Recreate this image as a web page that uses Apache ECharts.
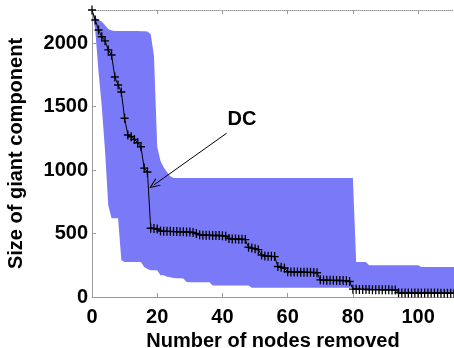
<!DOCTYPE html>
<html>
<head>
<meta charset="utf-8">
<script src="https://cdn.jsdelivr.net/npm/echarts@6/dist/echarts.min.js"></script>
<style>
  html, body { margin: 0; padding: 0; background: #ffffff; }
  #chart { width: 454px; height: 348px; }
</style>
</head>
<body>
<div id="chart"></div>
<script>
// Number of nodes removed (x), 0 .. 111
const nodesRemoved = Array.from({ length: 112 }, (_, i) => i);

// Size of the giant component after each removal (DC ordering)
const giantSize = [
  2260, 2182, 2103, 2050, 2017, 1946, 1906, 1733, 1670, 1614,
  1407, 1275, 1262, 1240, 1215, 1183, 1015, 984, 542, 540,
  536, 520, 518, 517, 517, 515, 515, 514, 513, 512,
  511, 508, 500, 490, 487, 486, 486, 485, 484, 484,
  483, 478, 460, 457, 456, 455, 455, 452, 392, 385,
  380, 373, 330, 323, 321, 320, 318, 240, 234, 228,
  199, 197, 196, 196, 195, 195, 194, 194, 193, 191,
  135, 133, 132, 131, 131, 130, 130, 129, 127, 122,
  62, 61, 60, 60, 59, 59, 58, 58, 58, 57,
  57, 57, 56, 55, 33, 32, 32, 32, 32, 32,
  31, 31, 31, 31, 31, 31, 31, 30, 30, 30,
  30, 30
];

// Lower edge of the shaded range
const bandLower = [
  2260, 2100, 1774, 1500, 1150, 720, 621, 621, 621, 289,
  276, 276, 276, 276, 276, 276, 237, 220, 211, 211,
  211, 171, 171, 160, 155, 150, 148, 147, 146, 118,
  116, 116, 116, 116, 116, 116, 116, 90, 90, 90,
  90, 90, 90, 90, 90, 90, 90, 90, 90, 73,
  73, 73, 73, 73, 73, 73, 73, 73, 73, 73,
  73, 73, 73, 73, 73, 73, 73, 73, 73, 73,
  73, 73, 73, 73, 73, 73, 73, 73, 73, 73,
  73, 55, 55, 55, 55, 55, 55, 55, 55, 55,
  55, 55, 55, 55, 29, 29, 29, 29, 29, 29,
  29, 29, 29, 29, 29, 29, 29, 29, 29, 29,
  29, 29
];

// Upper edge of the shaded range
const bandUpper = [
  2260, 2200, 2180, 2170, 2140, 2110, 2098, 2095, 2095, 2095,
  2095, 2095, 2095, 2095, 2095, 2093, 2092, 2090, 2070, 1900,
  1183, 1070, 1020, 985, 950, 938, 938, 938, 938, 938,
  938, 938, 938, 938, 938, 938, 938, 938, 938, 938,
  938, 938, 938, 938, 938, 938, 938, 938, 938, 938,
  938, 938, 938, 938, 938, 938, 938, 938, 938, 938,
  938, 938, 938, 938, 938, 938, 938, 938, 938, 938,
  938, 938, 938, 938, 938, 938, 938, 938, 938, 938,
  938, 276, 276, 276, 276, 250, 250, 250, 250, 250,
  250, 250, 250, 250, 250, 250, 250, 250, 250, 250,
  250, 237, 237, 237, 237, 237, 237, 237, 237, 237,
  237, 237
];

// Axis ranges and tick spacing
const xRange = [0, 111];
const xStep = 20;
const yRange = [0, 2260];
const yStep = 500;

// "DC" callout: text anchor and arrow, in data units
const dcText = 'DC';
const dcTextAt = [46, 1401];
const dcArrowFrom = [41.3, 1290];
const dcArrowTo = [18.9, 881];

const font = 'Liberation Sans, Arial, Helvetica, sans-serif';
const bandColor = '#7a7af8';
const axisGray = '#9a9a9a';

const giantPairs = nodesRemoved.map((x, i) => [x, giantSize[i]]);

// thin "+" marker
const plusSymbol = 'path://M0,4.2H10V5.8H0Z M4.2,0H5.8V10H4.2Z';
// open chevron arrowhead
const chevron = 'path://M0,10L5,0L10,10L8.8,10L5,2.4L1.2,10Z';

const labelStyle = { fontFamily: font, fontWeight: 'bold', fontSize: 20, color: '#000' };

// shaded range: one polygon running along the upper edge and back along the lower edge
function renderBand(params, api) {
  if (params.dataIndex !== 0) return null;
  const pts = [];
  nodesRemoved.forEach((x, i) => pts.push(api.coord([x, bandUpper[i]])));
  for (let i = nodesRemoved.length - 1; i >= 0; i--) {
    pts.push(api.coord([nodesRemoved[i], bandLower[i]]));
  }
  return {
    type: 'polygon',
    shape: { points: pts },
    style: { fill: bandColor, stroke: null }
  };
}

const chart = echarts.init(document.getElementById('chart'), null, { renderer: 'canvas' });

chart.setOption({
  animation: false,
  backgroundColor: '#ffffff',
  grid: { left: 92, right: 0, top: 10, bottom: 51, containLabel: false, outerBoundsMode: 'none' },
  xAxis: [
    {
      type: 'value', min: xRange[0], max: xRange[1], interval: xStep,
      position: 'bottom',
      name: 'Number of nodes removed', nameLocation: 'middle', nameGap: 28,
      nameTextStyle: labelStyle,
      axisLine: { show: true, lineStyle: { color: axisGray, width: 1 } },
      axisTick: { show: true, inside: true, length: 4, lineStyle: { color: axisGray } },
      axisLabel: Object.assign({ margin: 10, showMaxLabel: false, formatter: v => String(v) }, labelStyle),
      splitLine: { show: false }
    },
    {
      type: 'value', min: xRange[0], max: xRange[1], interval: xStep,
      position: 'top',
      axisLine: { show: true, lineStyle: { color: axisGray, width: 1, type: 'dotted' } },
      axisTick: { show: true, inside: true, length: 4, lineStyle: { color: axisGray } },
      axisLabel: { show: false },
      splitLine: { show: false }
    }
  ],
  yAxis: {
    type: 'value', min: yRange[0], max: yRange[1], interval: yStep,
    name: 'Size of giant component', nameLocation: 'middle', nameGap: 66,
    nameTextStyle: labelStyle,
    axisLine: { show: true, lineStyle: { color: axisGray, width: 1 } },
    axisTick: { show: true, inside: true, length: 4, lineStyle: { color: axisGray } },
    axisLabel: Object.assign({ margin: 4, showMaxLabel: false, formatter: v => String(v) }, labelStyle),
    splitLine: { show: false }
  },
  series: [
    {
      name: 'range', type: 'custom', silent: true, clip: true,
      data: [[0, 0]],
      renderItem: renderBand,
      z: 1
    },
    {
      name: 'DC', type: 'line', data: giantPairs, z: 3,
      symbol: plusSymbol, symbolSize: [8, 9],
      itemStyle: { color: '#000' },
      lineStyle: { color: '#000', width: 1 },
      markLine: {
        silent: true,
        symbol: ['none', chevron],
        symbolSize: [9, 11],
        lineStyle: { color: '#000', width: 1, type: 'solid' },
        label: { show: false },
        data: [[{ coord: dcArrowFrom }, { coord: dcArrowTo }]]
      },
      markPoint: {
        silent: true,
        symbol: 'circle', symbolSize: 1,
        itemStyle: { color: 'rgba(0,0,0,0)' },
        label: Object.assign({ show: true, position: 'inside', formatter: dcText }, labelStyle),
        data: [{ coord: dcTextAt }]
      }
    }
  ]
});
</script>
</body>
</html>
